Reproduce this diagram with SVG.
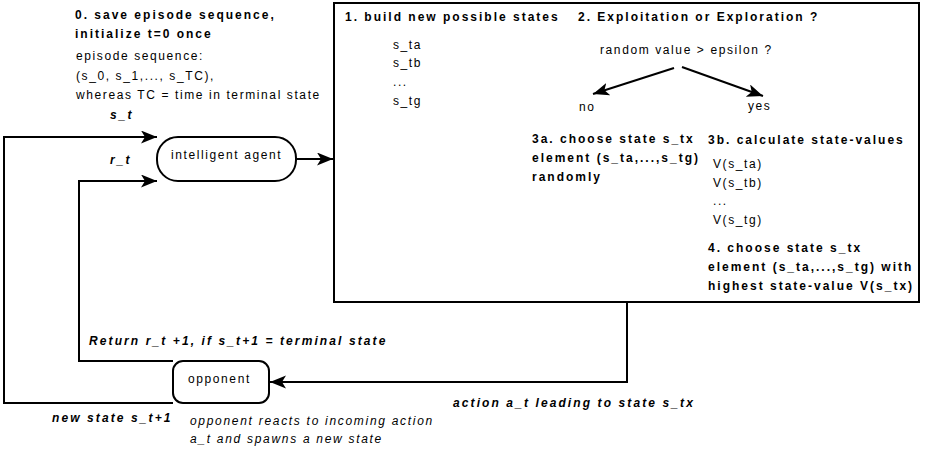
<svg xmlns="http://www.w3.org/2000/svg" width="925" height="451" viewBox="0 0 925 451">
  <style>
    text { font-family: "Liberation Sans", Arial, sans-serif; font-size: 12px; fill: #000; }
    .n { letter-spacing: 1.6px; }
    .b { font-weight: bold; letter-spacing: 2px; }
    .bi { font-weight: bold; font-style: italic; letter-spacing: 2.1px; }
    .i { font-style: italic; letter-spacing: 1.7px; }
    .shape { fill: #fff; stroke: #000; stroke-width: 2; }
    .wire { fill: none; stroke: #000; stroke-width: 2; }
  </style>
  <defs>
    <marker id="arrow" markerUnits="userSpaceOnUse" markerWidth="18" markerHeight="14" refX="16" refY="6.5" orient="auto">
      <path d="M0,0 L16,6.5 L0,13 L4,6.5 Z" fill="#000"/>
    </marker>
  </defs>
  <rect width="925" height="451" fill="#fff"/>

  <!-- episode setup notes -->
  <g id="setup">
    <text class="b" x="75" y="19">0. save episode sequence,</text>
    <text class="b" x="75" y="38">initialize t=0 once</text>
    <text class="n" x="76" y="60">episode sequence:</text>
    <text class="n" x="76" y="80">(s_0, s_1,..., s_TC),</text>
    <text class="n" x="76" y="99">whereas TC = time in terminal state</text>
  </g>

  <!-- agent -->
  <g id="agent">
    <rect class="shape" x="157" y="137" width="139" height="44" rx="21" ry="21"/>
    <text class="n" x="171" y="159">intelligent agent</text>
  </g>

  <!-- decision procedure -->
  <g id="procedure">
    <rect class="shape" x="334" y="3" width="585" height="299"/>
    <text class="b" x="345" y="21">1. build new possible states</text>
    <text class="b" x="578" y="21">2. Exploitation or Exploration ?</text>
    <text class="n" x="393" y="49">s_ta</text>
    <text class="n" x="393" y="67">s_tb</text>
    <text class="n" x="393" y="86">...</text>
    <text class="n" x="393" y="105">s_tg</text>
    <text class="n" x="600" y="54">random value &gt; epsilon ?</text>
    <line class="wire" x1="674" y1="68" x2="593" y2="94" marker-end="url(#arrow)"/>
    <line class="wire" x1="682" y1="67" x2="763" y2="96" marker-end="url(#arrow)"/>
    <text class="n" x="579" y="111">no</text>
    <text class="n" x="748" y="110">yes</text>
    <text class="b" x="532" y="143">3a. choose state s_tx</text>
    <text class="b" x="532" y="162">element (s_ta,...,s_tg)</text>
    <text class="b" x="532" y="181">randomly</text>
    <text class="b" x="708" y="144">3b. calculate state-values</text>
    <text class="n" x="713" y="168">V(s_ta)</text>
    <text class="n" x="713" y="187">V(s_tb)</text>
    <text class="n" x="713" y="205">...</text>
    <text class="n" x="713" y="224">V(s_tg)</text>
    <text class="b" x="708" y="252">4. choose state s_tx</text>
    <text class="b" x="708" y="271">element (s_ta,...,s_tg) with</text>
    <text class="b" x="708" y="290">highest state-value V(s_tx)</text>
  </g>

  <!-- opponent -->
  <g id="opponent">
    <rect class="shape" x="173" y="361" width="96" height="42" rx="10" ry="10"/>
    <text class="n" x="188" y="383">opponent</text>
    <text class="i" x="190" y="425">opponent reacts to incoming action</text>
    <text class="i" x="190" y="443">a_t and spawns a new state</text>
  </g>

  <!-- connectors -->
  <g id="connectors">
    <line class="wire" x1="296" y1="159" x2="333" y2="159" marker-end="url(#arrow)"/>
    <polyline class="wire" points="173,403 4,403 4,137 157,137" marker-end="url(#arrow)"/>
    <polyline class="wire" points="173,361 79,361 79,181 157,181" marker-end="url(#arrow)"/>
    <polyline class="wire" points="627,302 627,382 270,382" marker-end="url(#arrow)"/>
  </g>

  <!-- connector labels -->
  <g id="labels">
    <text class="bi" x="110" y="119">s_t</text>
    <text class="bi" x="110" y="164">r_t</text>
    <text class="bi" x="89" y="345">Return r_t +1, if s_t+1 = terminal state</text>
    <text class="bi" x="52" y="422">new state s_t+1</text>
    <text class="bi" x="453" y="407">action a_t leading to state s_tx</text>
  </g>
</svg>
